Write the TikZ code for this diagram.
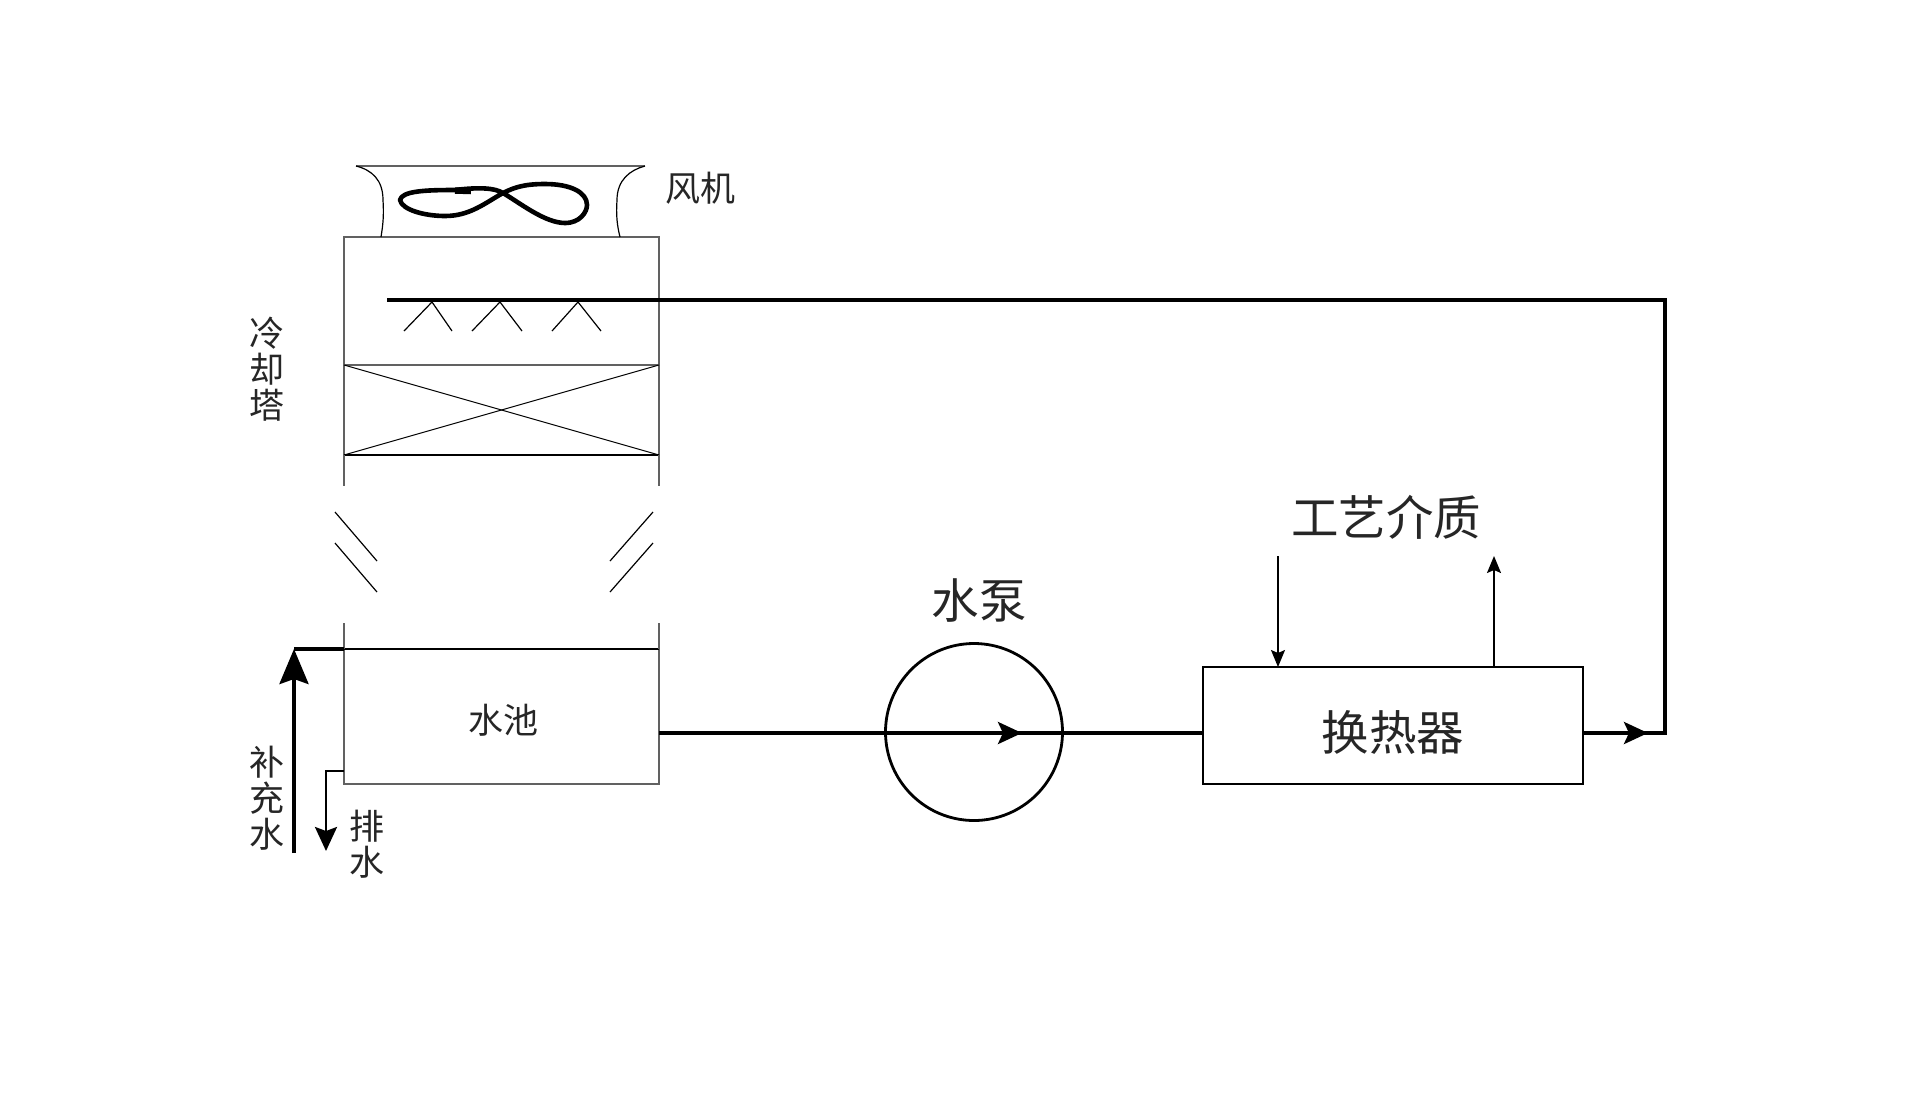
\documentclass[tikz,border=0pt]{standalone}
\usepackage{fontspec}
\setmainfont{Noto Sans CJK SC}
\usetikzlibrary{arrows.meta,calc}
\tikzset{
  wall/.style={draw=black!62,line width=1.8pt,outer sep=0pt},
  thinline/.style={draw=black,line width=1.2pt},
  pipe/.style={draw=black,line width=3.8pt},
  medline/.style={draw=black,line width=2.8pt},
  procline/.style={draw=black,line width=1.6pt},
  unit/.style={draw=black,line width=2.8pt,inner sep=0pt,outer sep=0pt},
  lab/.style={inner sep=0pt,align=center,text=black!85},
  labS/.style={lab,font=\fontsize{35}{36}\selectfont},
  labL/.style={lab,font=\fontsize{47.5}{48}\selectfont},
  bigtip/.style={-{Stealth[length=35pt,width=29pt,inset=5pt]}},
  midtip/.style={-{Stealth[length=24pt,width=22pt,inset=5pt]}},
  smalltip/.style={-{Stealth[length=17pt,width=14pt,inset=3pt]}}
}
\begin{document}
\begin{tikzpicture}[x=1pt,y=-1pt]
\useasboundingbox[fill=white] (0,0) rectangle (1920,1112);
% tower shell
\node[wall,minimum width=315pt,minimum height=128pt,inner sep=0pt] (upper) at (501.5,301) {};
\node[wall,minimum width=315pt,minimum height=90pt,inner sep=0pt] (fill) at (501.5,410) {};
\node[wall,minimum width=315pt,minimum height=135pt,inner sep=0pt] (basin) at (501.5,716.5) {};
\draw[thinline] (basin.north west) -- (basin.north east);
\draw[thinline] (fill.south west) -- (fill.south east);
\draw[thinline,line width=1pt] (fill.north west) -- (fill.south east);
\draw[thinline,line width=1pt] (fill.south west) -- (fill.north east);
% side walls with the air inlet gap
\coordinate (wl1) at (344,486); \coordinate (wr1) at (659,486);
\coordinate (wl2) at (344,623); \coordinate (wr2) at (659,623);
\draw[wall] (fill.south west) -- (wl1);
\draw[wall] (fill.south east) -- (wr1);
\draw[wall] (wl2) -- (basin.north west);
\draw[wall] (wr2) -- (basin.north east);
% louvres
\draw[thinline] (335,512) -- (377,561);
\draw[thinline] (335,543) -- (377,592);
\draw[thinline] (653,512) -- (610,561);
\draw[thinline] (653,543) -- (610,592);
% fan hood
\draw[wall] (356,166) -- (645,166);
\draw[thinline] (356,166) .. controls (372,170) and (383,180) .. (383,200) .. controls (384,215) and (383,225) .. (381,237);
\draw[thinline] (645,166) .. controls (630,170) and (617,180) .. (617,200) .. controls (616,215) and (617,225) .. (620,237);
% fan blade
\draw[line width=4.6pt,line join=round] (455,190) .. controls (425,190) and (402,191) .. (400,200)
  .. controls (402,210) and (425,216) .. (445,216)
  .. controls (470,216) and (485,203) .. (503,193)
  .. controls (520,203) and (545,223) .. (565,223)
  .. controls (580,223) and (587,212) .. (587,205)
  .. controls (587,192) and (570,184) .. (545,184)
  .. controls (525,184) and (515,187) .. (503,193)
  .. controls (495,188) and (480,187) .. (455,190);
\draw[line width=6.5pt] (455,190.5) -- (471,191);
% spray pipe nozzles
\coordinate (sprayend) at (387,300);
\coordinate (corner1) at (1665,300);
\foreach \ax/\lx/\rx in {432/404/452,500/472/522,578/552/601}{
  \draw[thinline] (\lx,331) -- (\ax,302) -- (\rx,331);
}
% pump and exchanger
\node[unit,circle,minimum size=177pt] (pump) at (974,732) {};
\node[unit,minimum width=380pt,minimum height=117pt] (hx) at (1393,725.5) {};
\coordinate (basinout) at (basin.east |- 0,733);
\coordinate (pumptip) at (1022,733);
\coordinate (hxin) at (hx.west |- 0,733);
\coordinate (hxout) at (hx.east |- 0,733);
\coordinate (hxtip) at (1648,733);
\coordinate (corner2) at (1665,733);
% main loop
\draw[pipe] (basinout) -- (hxin);
\draw[pipe,midtip] (basinout) -- (pumptip);
\draw[pipe] (hxout) -- (corner2) -- (corner1) -- (sprayend);
\draw[pipe,midtip] (hxout) -- (hxtip);
% make-up water
\coordinate (mk0) at (294,853);
\coordinate (mk1) at (294,649);
\coordinate (mk2) at (basin.north west);
\draw[pipe,bigtip] (mk0) -- (mk1);
\draw[medline,line width=3.4pt] (mk1) -- (mk2);
% drain
\coordinate (dr0) at (344,771);
\coordinate (dr1) at (326,771);
\coordinate (dr2) at (326,851);
\draw[medline,-{Stealth[length=24pt,width=22pt,inset=4pt]}] (dr0) -- (dr1) -- (dr2);
% process medium
\coordinate (pin) at (1278,556);
\coordinate (pout) at (1494,556);
\draw[procline,smalltip] (pin) -- (pin |- hx.north);
\draw[procline,smalltip] (pout |- hx.north) -- (pout);
% labels
\node[labS] (lfan) at (700,188) {风机};
\node[labS] (ltower) at (267,369) {冷\\却\\塔};
\node[labS] (lbasin) at (503,720) {水池};
\node[labS] (lmake) at (267,798) {补\\充\\水};
\node[labS] (ldrain) at (367,844) {排\\水};
\node[labL] (lpump) at (979,601) {水泵};
\node[labL] (lhx) at (1393,732) {换热器};
\node[labL] (lmed) at (1386,517) {工艺介质};
\end{tikzpicture}
\end{document}
